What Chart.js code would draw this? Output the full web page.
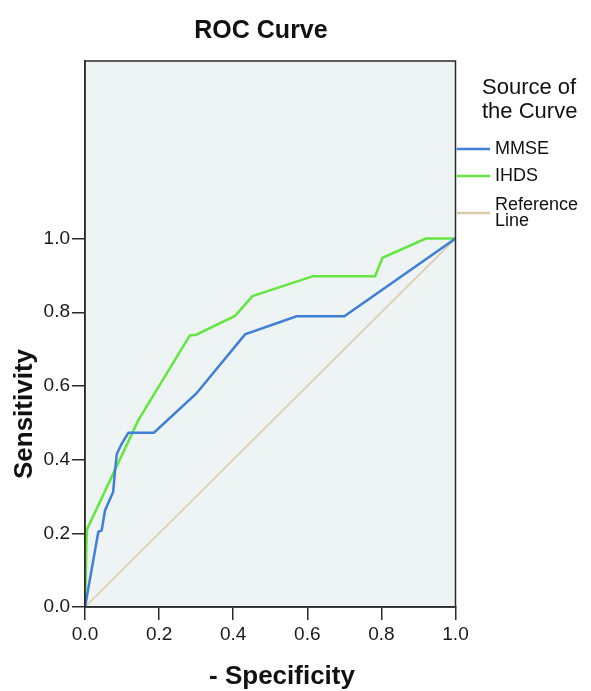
<!DOCTYPE html>
<html>
<head>
<meta charset="utf-8">
<script src="https://cdn.jsdelivr.net/npm/chart.js@4.4.0/dist/chart.umd.min.js"></script>
<style>
  html, body { margin: 0; padding: 0; background: #fff; }
</style>
</head>
<body>
<canvas id="roc" width="591" height="691"></canvas>
<script>
const chartTitle = "ROC Curve";
const xTitle = "- Specificity";
const yTitle = "Sensitivity";
const legendTitle = ["Source of", "the Curve"];

// (1 - specificity, sensitivity)
const mmseX = [0, 0.036, 0.045, 0.054, 0.076, 0.081, 0.086, 0.099, 0.117, 0.186, 0.30, 0.432, 0.571, 0.70, 1.0];
const mmseY = [0, 0.204, 0.208, 0.262, 0.312, 0.371, 0.416, 0.443, 0.473, 0.473, 0.579, 0.74, 0.789, 0.789, 1.0];
const ihdsX = [0, 0.005, 0.144, 0.283, 0.30, 0.405, 0.452, 0.616, 0.783, 0.803, 0.92, 1.0];
const ihdsY = [0, 0.21, 0.507, 0.737, 0.739, 0.79, 0.844, 0.898, 0.898, 0.948, 1.0, 1.0];
const refX = [0, 1];
const refY = [0, 1];

const seriesLabels = ["MMSE", "IHDS", "Reference\nLine"];
const seriesColors = ["#3f7fd8", "#63e63f", "#dccbab"];

const font = '"Liberation Sans", Arial, sans-serif';

function pts(xs, ys) {
  return xs.map((x, i) => ({ x: x, y: ys[i] }));
}

// background, frame, titles and legend
const decor = {
  id: "decor",
  beforeDraw(chart) {
    const a = chart.chartArea, ctx = chart.ctx;
    ctx.save();
    ctx.fillStyle = "#eef3f3";
    ctx.fillRect(a.left, a.top, a.right - a.left, a.bottom - a.top);
    ctx.restore();
  },
  afterDatasetsDraw(chart) {
    const a = chart.chartArea, ctx = chart.ctx;
    ctx.save();
    ctx.strokeStyle = "#2b2b2b";
    ctx.lineWidth = 1.5;
    ctx.strokeRect(a.left, a.top, a.right - a.left, a.bottom - a.top);
    ctx.restore();
  },
  afterDraw(chart) {
    const a = chart.chartArea, ctx = chart.ctx;
    ctx.save();
    ctx.fillStyle = "#111";
    ctx.textBaseline = "middle";

    ctx.textAlign = "center";
    ctx.font = "bold 25px " + font;
    ctx.fillText(chartTitle, 261, 31);

    ctx.font = "bold 26px " + font;
    ctx.fillText(xTitle, 282, 677);

    ctx.save();
    ctx.translate(25, 414);
    ctx.rotate(-Math.PI / 2);
    ctx.fillText(yTitle, 0, 0);
    ctx.restore();

    ctx.textAlign = "left";
    ctx.font = "22px " + font;
    ctx.fillText(legendTitle[0], 482, 88);
    ctx.fillText(legendTitle[1], 482, 112);

    const rows = [149, 176, 213];
    ctx.font = "18px " + font;
    chart.data.datasets.forEach((ds, i) => {
      const y = rows[i];
      ctx.strokeStyle = ds.borderColor;
      ctx.lineWidth = 2.5;
      ctx.beginPath();
      ctx.moveTo(a.right + 1, y);
      ctx.lineTo(490, y);
      ctx.stroke();
      const lines = ds.label.split("\n");
      lines.forEach((t, j) => {
        ctx.fillText(t, 495, y + (j - (lines.length - 1) / 2) * 16);
      });
    });
    ctx.restore();
  }
};

new Chart(document.getElementById("roc"), {
  type: "line",
  data: {
    datasets: [
      { label: seriesLabels[0], data: pts(mmseX, mmseY), borderColor: seriesColors[0], borderWidth: 2.5 },
      { label: seriesLabels[1], data: pts(ihdsX, ihdsY), borderColor: seriesColors[1], borderWidth: 2.5 },
      { label: seriesLabels[2], data: pts(refX, refY), borderColor: seriesColors[2], borderWidth: 1.5 }
    ]
  },
  options: {
    responsive: false,
    animation: false,
    devicePixelRatio: 1,
    elements: { point: { radius: 0 }, line: { tension: 0, fill: false } },
    layout: { padding: { top: 61, right: 135.5, left: 0, bottom: 0 } },
    plugins: { legend: { display: false }, title: { display: false }, tooltip: { enabled: false } },
    scales: {
      x: {
        type: "linear",
        min: 0,
        max: 1,
        afterFit(s) { s.height = 84; },
        ticks: {
          stepSize: 0.2,
          padding: 3,
          color: "#1a1a1a",
          font: { family: font, size: 19 },
          maxRotation: 0,
          callback: v => v.toFixed(1)
        },
        grid: { drawOnChartArea: false, drawTicks: true, tickLength: 13, color: "#2b2b2b", lineWidth: 1.5 },
        border: { display: true, color: "#2b2b2b", width: 1.5 },
        title: { display: false }
      },
      y: {
        type: "linear",
        min: 0,
        max: 1.482,
        afterFit(s) { s.width = 85; },
        afterBuildTicks(s) { s.ticks = s.ticks.filter(t => t.value <= 1.0001); },
        ticks: {
          stepSize: 0.2,
          padding: 2,
          color: "#1a1a1a",
          font: { family: font, size: 19 },
          callback: v => v.toFixed(1)
        },
        grid: { drawOnChartArea: false, drawTicks: true, tickLength: 13, color: "#2b2b2b", lineWidth: 1.5 },
        border: { display: true, color: "#2b2b2b", width: 1.5 },
        title: { display: false }
      }
    }
  },
  plugins: [decor]
});
</script>
</body>
</html>
